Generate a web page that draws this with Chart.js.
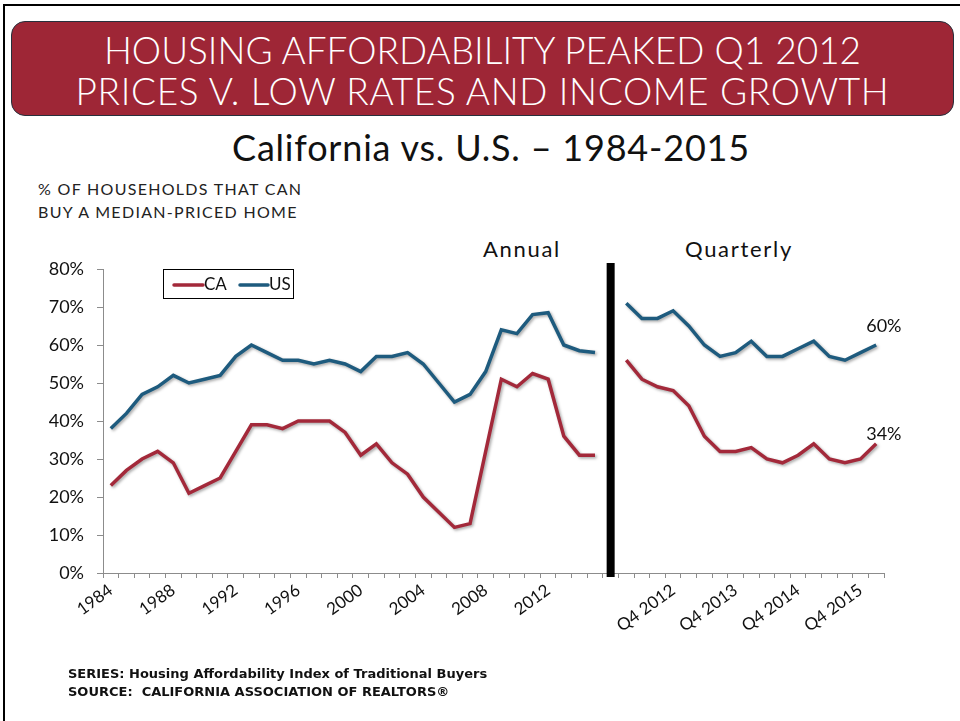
<!DOCTYPE html>
<html>
<head>
<meta charset="utf-8">
<script src="https://cdn.jsdelivr.net/npm/chart.js@4.4.1/dist/chart.umd.min.js"></script>
<style>
    html, body { margin: 0; padding: 0; background: #fff; }
    body { width: 960px; height: 721px; position: relative; overflow: hidden; font-family: 'Lato', 'DejaVu Sans', sans-serif; }
    .frame { position: absolute; left: 3px; top: 4px; width: 980px; height: 740px; border-left: 2px solid #000; border-top: 2px solid #000; }
    .banner { position: absolute; left: 11px; top: 21px; width: 943px; height: 95px; background: #9e2636; border: 1px solid #27303c; border-radius: 14px; color: #fff; text-align: center; font-size: 37px; font-weight: 300; line-height: 41px; padding-top: 7px; box-sizing: border-box; }
    .subtitle { position: absolute; left: 0; width: 982px; top: 125px; text-align: center; font-size: 36px; letter-spacing: 0.8px; color: #111; }
    .ylabel { position: absolute; left: 38px; top: 177px; font-size: 16px; letter-spacing: 1.3px; line-height: 23px; color: #222; }
    .section { position: absolute; top: 235px; font-size: 22px; letter-spacing: 1.7px; color: #111; }
    .notes { position: absolute; left: 68px; top: 665px; font-family: 'DejaVu Sans', sans-serif; font-size: 13px; font-weight: bold; line-height: 18px; color: #111; }
    #chartBox { position: absolute; left: 0; top: 0; width: 960px; height: 721px; }
</style>
</head>
<body>
<div class="frame"></div>
<div class="banner"><span>HOUSING AFFORDABILITY PEAKED Q1 2012</span><br><span style="letter-spacing:0.65px">PRICES V. LOW RATES AND INCOME GROWTH</span></div>
<div class="subtitle">California vs. U.S. – 1984-2015</div>
<div class="ylabel">% OF HOUSEHOLDS THAT CAN<br>BUY A MEDIAN-PRICED HOME</div>
<div class="section" style="left:483px">Annual</div>
<div class="section" style="left:685px">Quarterly</div>
<div id="chartBox"><canvas id="chart"></canvas></div>
<div class="notes">SERIES: Housing Affordability Index of Traditional Buyers<br>SOURCE:&nbsp; CALIFORNIA ASSOCIATION OF REALTORS®</div>

<script>
"use strict";

// Categories
const years = ['1984', '1985', '1986', '1987', '1988', '1989', '1990', '1991', '1992', '1993', '1994',
    '1995', '1996', '1997', '1998', '1999', '2000', '2001', '2002', '2003', '2004', '2005', '2006',
    '2007', '2008', '2009', '2010', '2011', '2012', '2013', '2014', '2015'];
const quarters = ['Q1 2012', 'Q2 2012', 'Q3 2012', 'Q4 2012', 'Q1 2013', 'Q2 2013', 'Q3 2013', 'Q4 2013',
    'Q1 2014', 'Q2 2014', 'Q3 2014', 'Q4 2014', 'Q1 2015', 'Q2 2015', 'Q3 2015', 'Q4 2015', 'Q1 2016'];

// Labels shown on the x axis
const shownTicks = ['1984', '1988', '1992', '1996', '2000', '2004', '2008', '2012',
    'Q4 2012', 'Q4 2013', 'Q4 2014', 'Q4 2015'];

// Series values (% of households)
const caAnnual = [23, 27, 30, 32, 29, 21, 23, 25, 32, 39, 39, 38, 40, 40, 40, 37, 31, 34, 29, 26, 20, 16,
    12, 13, 32, 51, 49, 52.5, 51, 36, 31, 31];
const usAnnual = [38, 42, 47, 49, 52, 50, 51, 52, 57, 60, 58, 56, 56, 55, 56, 55, 53, 57, 57, 58, 55, 50,
    45, 47, 53, 64, 63, 68, 68.5, 60, 58.5, 58];
const caQuarterly = [56, 51, 49, 48, 44, 36, 32, 32, 33, 30, 29, 31, 34, 30, 29, 30, 34];
const usQuarterly = [71, 67, 67, 69, 65, 60, 57, 58, 61, 57, 57, 59, 61, 57, 56, 58, 60];

// Y axis ticks
const yTicks = [0, 10, 20, 30, 40, 50, 60, 70, 80];

// Define colors
var caColor = '#a3293a';
var usColor = '#1e5b7e';
var axisColor = '#8c8c8c';
var fontFamily = "'Lato', 'DejaVu Sans', sans-serif";

// One blank category separates the annual and quarterly parts
const labels = years.concat(['']).concat(quarters);
const caData = caAnnual.concat([null]).concat(caQuarterly);
const usData = usAnnual.concat([null]).concat(usQuarterly);
const dividerIndex = years.length;

// Soft drop shadow under the lines
const shadowPlugin = {
    id: 'shadow',
    beforeDatasetDraw: function (chart) {
        var ctx = chart.ctx;
        ctx.save();
        ctx.shadowColor = 'rgba(0, 0, 0, 0.35)';
        ctx.shadowBlur = 3;
        ctx.shadowOffsetX = 1.5;
        ctx.shadowOffsetY = 1.5;
    },
    afterDatasetDraw: function (chart) {
        chart.ctx.restore();
    }
};

// Black divider, legend box and end labels
const decorPlugin = {
    id: 'decor',
    afterDatasetsDraw: function (chart) {
        var ctx = chart.ctx;
        var x = chart.scales.x;
        var y = chart.scales.y;

        // divider between annual and quarterly
        var dx = x.getPixelForValue(dividerIndex);
        ctx.save();
        ctx.fillStyle = '#000';
        ctx.fillRect(dx - 4, y.top - 6, 8, y.bottom - y.top + 10);

        // legend
        ctx.strokeStyle = '#000';
        ctx.lineWidth = 1;
        ctx.strokeRect(163.5, 269.5, 130, 29);
        ctx.lineWidth = 3.5;
        ctx.lineCap = 'round';
        ctx.strokeStyle = caColor;
        ctx.beginPath(); ctx.moveTo(174, 285); ctx.lineTo(203, 285); ctx.stroke();
        ctx.strokeStyle = usColor;
        ctx.beginPath(); ctx.moveTo(240, 285); ctx.lineTo(268, 285); ctx.stroke();
        ctx.fillStyle = '#111';
        ctx.font = '17px ' + fontFamily;
        ctx.textBaseline = 'middle';
        ctx.textAlign = 'left';
        ctx.fillText('CA', 204, 285);
        ctx.fillText('US', 269, 285);

        // end-of-line value labels
        ctx.font = '18px ' + fontFamily;
        var last = labels.length - 1;
        var lift = [10, 19];
        [caData, usData].forEach(function (arr, i) {
            var v = arr[last];
            var px = x.getPixelForValue(last);
            var py = y.getPixelForValue(v);
            ctx.fillText(v + '%', px - 10, py - lift[i]);
        });
        ctx.restore();
    }
};

// Chart config
const config = {
    type: 'line',
    data: {
        labels: labels,
        datasets: [
            {
                label: 'CA',
                data: caData,
                borderColor: caColor,
                backgroundColor: caColor,
                borderWidth: 3.5,
                pointRadius: 0,
                tension: 0,
                spanGaps: false
            },
            {
                label: 'US',
                data: usData,
                borderColor: usColor,
                backgroundColor: usColor,
                borderWidth: 3.5,
                pointRadius: 0,
                tension: 0,
                spanGaps: false
            }
        ]
    },
    options: {
        responsive: true,
        maintainAspectRatio: false,
        animation: false,
        layout: {
            padding: { left: 0, top: 269, right: 76, bottom: 67 }
        },
        plugins: {
            legend: { display: false },
            title: { display: false },
            tooltip: { enabled: false }
        },
        scales: {
            x: {
                offset: true,
                grid: {
                    offset: true,
                    drawOnChartArea: false,
                    drawTicks: true,
                    tickLength: 5,
                    color: axisColor
                },
                border: { color: axisColor, width: 1 },
                afterFit: function (scale) { scale.height = 81; },
                ticks: {
                    autoSkip: false,
                    minRotation: 36,
                    maxRotation: 36,
                    padding: 2,
                    color: '#111',
                    font: { size: 17, family: fontFamily },
                    callback: function (value) {
                        var name = labels[value];
                        return shownTicks.indexOf(name) >= 0 ? name : '';
                    }
                }
            },
            y: {
                min: 0,
                max: 80,
                afterFit: function (scale) { scale.width = 103; },
                afterBuildTicks: function (scale) {
                    scale.ticks = yTicks.map(function (v) { return { value: v }; });
                },
                grid: {
                    drawOnChartArea: false,
                    drawTicks: true,
                    tickLength: 6,
                    color: axisColor
                },
                border: { color: axisColor, width: 1 },
                ticks: {
                    padding: 13,
                    color: '#111',
                    font: { size: 18, family: fontFamily },
                    callback: function (value) { return value + '%'; }
                }
            }
        }
    },
    plugins: [shadowPlugin, decorPlugin]
};

// Init ChartJS
Chart.defaults.font.family = fontFamily;
var myChart = new Chart(document.getElementById('chart'), config);
</script>
</body>
</html>
